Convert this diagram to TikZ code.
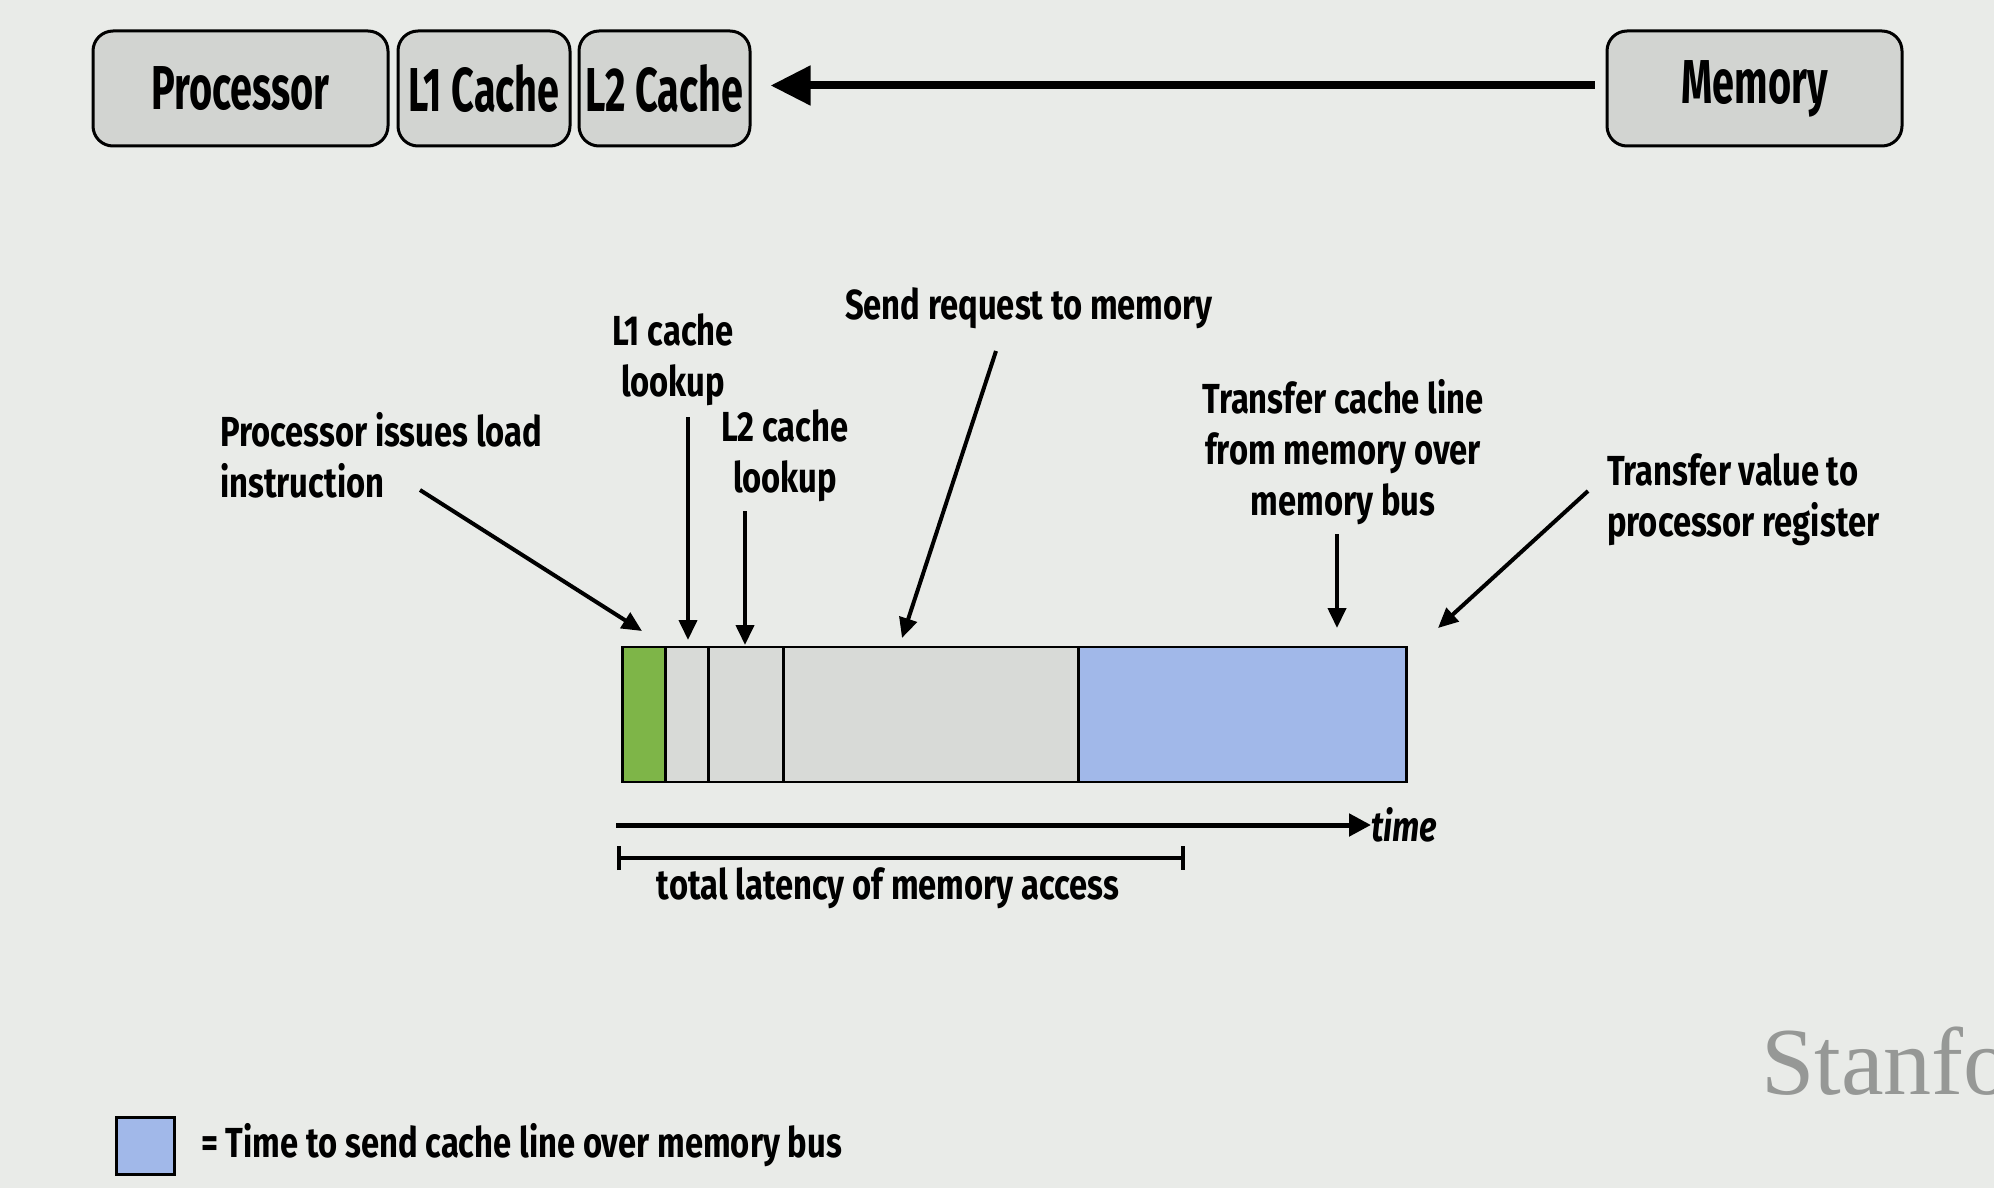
\documentclass[tikz,border=0pt]{standalone}
\usepackage{fontspec}
\setmainfont{Fira Sans}[FakeStretch=0.64]
\newfontfamily\labfont{Fira Sans}[FakeStretch=0.78]
\newfontfamily\stanfont{Liberation Serif}
\usetikzlibrary{arrows.meta,calc}
\definecolor{bg}{RGB}{233,235,232}
\definecolor{boxgray}{RGB}{210,212,209}
\definecolor{bargray}{RGB}{216,218,215}
\definecolor{greenseg}{RGB}{126,181,72}
\definecolor{blueseg}{RGB}{161,184,233}
\definecolor{stangray}{RGB}{150,152,150}
\tikzset{
  topbox/.style={draw=black, line width=3pt, rounded corners=20pt, fill=boxgray, minimum height=115pt, inner sep=0pt, font=\fontsize{62}{70}\selectfont\bfseries},
  seg/.style={draw=black, line width=2.5pt, minimum height=135pt, inner sep=0pt, anchor=west},
  lab/.style={font=\labfont\fontsize{42}{51}\selectfont\bfseries, inner sep=0pt},
  ptr/.style={-{Triangle[length=20pt,width=18pt]}, line width=4pt},
}
\begin{document}
\begin{tikzpicture}[x=1pt,y=-1pt]
\useasboundingbox (0,0) rectangle (1994,1188);
\clip (0,0) rectangle (1994,1188);
\fill[bg] (0,0) rectangle (1994,1188);

% top boxes
\node[topbox, minimum width=295pt] (proc) at (240.5,88.5) {Processor};
\node[topbox, minimum width=172pt] (l1) at (484,88.5) {L1 Cache};
\node[topbox, minimum width=171pt] (l2) at (664.5,88.5) {L2 Cache};
\node[topbox, minimum width=295pt] (mem) at (1754.5,88.5) {Memory};
\draw[line width=8pt, -{Triangle[length=40pt,width=38pt]}, shorten <=11pt, shorten >=19pt, transform canvas={yshift=3pt}] (mem) -- (l2);

% timeline bar
\node[seg, fill=greenseg, minimum width=43pt] (s1) at (621,714.5) {};
\node[seg, fill=bargray, minimum width=43pt] (s2) at (664,714.5) {};
\node[seg, fill=bargray, minimum width=75pt] (s3) at (707,714.5) {};
\node[seg, fill=bargray, minimum width=295pt] (s4) at (782,714.5) {};
\node[seg, fill=blueseg, minimum width=328pt] (s5) at (1077,714.5) {};

% labels
\node[lab, align=left, anchor=west] (lproc) at (220,455) {Processor issues load\\instruction};
\node[lab, align=center] (ll1) at (673,360) {L1 cache\\lookup};
\node[lab, align=center] (ll2) at (785,456) {L2 cache\\lookup};
\node[lab, align=center] (lsend) at (1029,308) {Send request to memory};
\node[lab, align=center] (ltc) at (1343,452) {Transfer cache line\\from memory over\\memory bus};
\node[lab, align=left, anchor=west] (ltv) at (1607,500) {Transfer value to\\processor register};

\coordinate (a1s) at (420,490); \coordinate (a1e) at (642,631);
\coordinate (a2s) at (688,417); \coordinate (a2e) at (688,640);
\coordinate (a3s) at (745,511); \coordinate (a3e) at (745,645);
\coordinate (a4s) at (996,351); \coordinate (a4e) at (902,638);
\coordinate (a5s) at (1337,534); \coordinate (a5e) at (1337,628);
\coordinate (a6s) at (1588,491); \coordinate (a6e) at (1438,628);
\draw[ptr] (a1s) -- (a1e);
\draw[ptr] (a2s) -- (a2e);
\draw[ptr] (a3s) -- (a3e);
\draw[ptr] (a4s) -- (a4e);
\draw[ptr] (a5s) -- (a5e);
\draw[ptr] (a6s) -- (a6e);

% time axis
\coordinate (t0) at (616,825);
\node[lab, anchor=west, font=\labfont\fontsize{42}{51}\selectfont\bfseries\itshape] (time) at (1371,825) {time};
\draw[line width=5pt, -{Triangle[length=22pt,width=22pt]}] (t0) -- (time.west);

% latency bracket
\coordinate (la) at (617,858);
\coordinate (lb) at (1185,858);
\draw[line width=4pt, {Bar[width=24pt]}-{Bar[width=24pt]}] (la) -- (lb);
\node[lab] (lat) at (888,888) {total latency of memory access};

% legend
\node[draw=black, line width=3pt, fill=blueseg, minimum width=58pt, minimum height=57pt, inner sep=0pt] (leg) at (145,1145.5) {};
\node[lab, anchor=west] (legt) at (201,1145) {= Time to send cache line over memory bus};

% watermark (cut off at the right edge, as in the reference)
\node[anchor=base west, inner sep=0pt, text=stangray, font=\stanfont\fontsize{96}{100}\selectfont] (stan) at (1761,1094) {Stanford};
\end{tikzpicture}
\end{document}
